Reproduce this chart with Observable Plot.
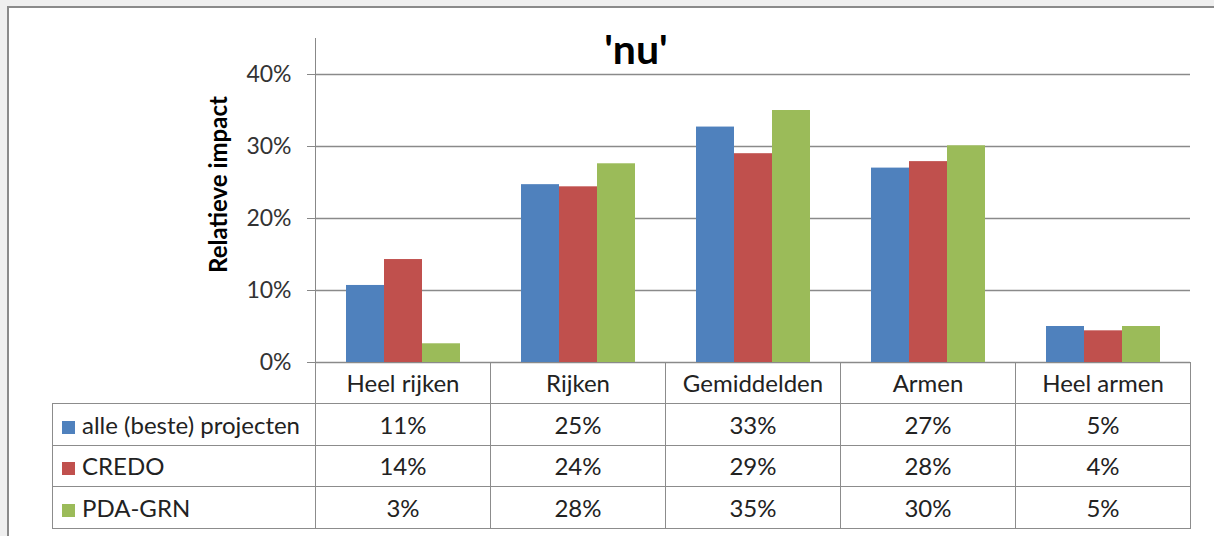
<!DOCTYPE html>
<html><head><meta charset="utf-8">
<script src="https://cdn.jsdelivr.net/npm/d3@7"></script>
<script src="https://cdn.jsdelivr.net/npm/@observablehq/plot@0.6"></script>
<style>
html,body{margin:0;padding:0;width:1214px;height:536px;overflow:hidden;background:#efefef;font-family:Lato,sans-serif;}
#frame{position:absolute;left:7px;top:6px;width:1260px;height:580px;border:2px solid #8a8a8a;background:#fff;box-sizing:border-box;}
#title{position:absolute;left:0;width:1272px;top:28px;text-align:center;font-family:Lato,sans-serif;font-weight:bold;font-size:41px;line-height:41px;color:#000;}
#chart{position:absolute;left:0;top:0;}
#chart g[aria-label="y-axis tick label"]{fill:#333;}
#tbl{position:absolute;top:362px;left:52px;border-collapse:collapse;table-layout:fixed;font-family:Lato,sans-serif;font-size:24px;color:#222;}
#tbl td{border:1.5px solid #8c8c8c;padding:0;text-align:center;vertical-align:middle;white-space:nowrap;overflow:hidden;}
#tbl tr{height:41.5px;}
#tbl td.blank{border:none;}
#tbl td.head{border-top:none;}
#tbl td.lab{text-align:left;padding-left:9px;}
.sw{display:inline-block;width:13px;height:13px;margin-right:7px;vertical-align:0px;}
</style></head>
<body>
<div id="frame"></div>
<div id="chart"></div>
<div id="title"></div>
<table id="tbl"></table>
<script>
const title = "'nu'";
const yLabel = "Relatieve impact";
const categories = ["Heel rijken", "Rijken", "Gemiddelden", "Armen", "Heel armen"];
const seriesNames = ["alle (beste) projecten", "CREDO", "PDA-GRN"];
const alle = [0.107, 0.247, 0.327, 0.270, 0.050];
const credo = [0.143, 0.244, 0.290, 0.279, 0.044];
const pdaGrn = [0.026, 0.276, 0.350, 0.301, 0.050];
const seriesColors = ["#4F81BD", "#C0504D", "#9BBB59"];
const yTicks = [0, 0.1, 0.2, 0.3, 0.4];

const seriesValues = [alle, credo, pdaGrn];
const rows = seriesNames.flatMap((s, i) => categories.map((c, j) => ({series: s, category: c, value: seriesValues[i][j]})));
const fmt = d3.format(".0%");

const chart = Plot.plot({
  width: 1214, height: 380,
  marginLeft: 314, marginRight: 23, marginTop: 38, marginBottom: 18,
  fx: {domain: categories, padding: 0, axis: null},
  x: {domain: seriesNames, paddingInner: 0, paddingOuter: 0.75, axis: null},
  y: {domain: [0, 0.45], ticks: yTicks, tickFormat: fmt, tickSize: 8, tickPadding: 16, line: true, label: null},
  color: {domain: seriesNames, range: seriesColors},
  style: {fontFamily: "Lato, sans-serif", fontSize: "23px", color: "#888", background: "transparent", overflow: "visible"},
  marks: [
    Plot.gridY({ticks: yTicks.slice(1), stroke: "#8a8a8a", strokeOpacity: 1, strokeWidth: 1.5}),
    Plot.ruleY([0], {stroke: "#8a8a8a", strokeWidth: 1.5}),
    Plot.barY(rows, {fx: "category", x: "series", y: "value", fill: "series"}),
    Plot.text([{category: categories[0]}], {fx: "category", text: () => yLabel, frameAnchor: "left", textAnchor: "middle", rotate: -90, dx: -96, dy: -16, fontWeight: "bold", fontSize: 24, fill: "#000"})
  ]
});
document.getElementById("chart").appendChild(chart);
document.getElementById("title").textContent = title;

// data table aligned to the fx scale
const fxs = chart.scale("fx");
const firstW = fxs.apply(categories[0]) - 52;
const tbl = d3.select("#tbl");
const cg = tbl.append("colgroup");
cg.append("col").style("width", firstW + "px");
categories.forEach(() => cg.append("col").style("width", fxs.bandwidth + "px"));
tbl.style("width", (firstW + fxs.bandwidth * categories.length) + "px");
const hr = tbl.append("tr");
hr.append("td").attr("class", "blank");
categories.forEach(c => hr.append("td").attr("class", "head").text(c));
seriesNames.forEach((s, i) => {
  const tr = tbl.append("tr");
  const td = tr.append("td").attr("class", "lab");
  td.append("span").attr("class", "sw").style("background", seriesColors[i]);
  td.append("span").text(s);
  seriesValues[i].forEach(v => tr.append("td").text(fmt(v)));
});
</script>
</body></html>
